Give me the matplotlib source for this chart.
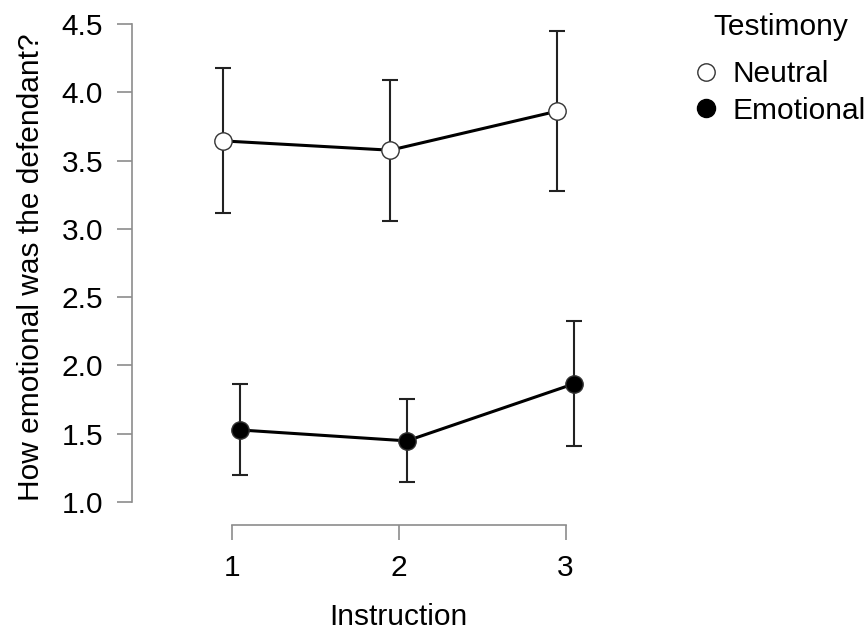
import numpy as np
import matplotlib
matplotlib.use("Agg")
import matplotlib.pyplot as plt
from matplotlib.lines import Line2D

plt.rcParams['font.family'] = ['Liberation Sans', 'DejaVu Sans']

instruction = [1, 2, 3]
groups = ["Neutral", "Emotional"]

neutral_mean = [3.645, 3.577, 3.863]
neutral_lower = [3.12, 3.061, 3.276]
neutral_upper = [4.177, 4.091, 4.451]

emotional_mean = [1.526, 1.446, 1.864]
emotional_lower = [1.196, 1.142, 1.409]
emotional_upper = [1.862, 1.752, 2.327]

y_ticks = [1.0, 1.5, 2.0, 2.5, 3.0, 3.5, 4.0, 4.5]

fs = 21.5
spine_col = '#8c8c8c'

fig = plt.figure(figsize=(8.68, 6.31), dpi=100)
# x from 0.403 to 3.597 so that the axis label sits under x=2
ax = fig.add_axes([0.1521, 0.1675, 0.6142, 0.8167])

x = np.array(instruction, dtype=float)
series = [
    (x - 0.05, neutral_mean, neutral_lower, neutral_upper, 'white'),
    (x + 0.05, emotional_mean, emotional_lower, emotional_upper, 'black'),
]
for xs, m, lo, hi, fc in series:
    m = np.array(m)
    yerr = [m - np.array(lo), np.array(hi) - m]
    ax.errorbar(xs, m, yerr=yerr, fmt='none', ecolor='#222222', elinewidth=1.5,
                capsize=6, capthick=1.5, zorder=2)
    ax.plot(xs, m, color='black', lw=2.2, zorder=3)
    ax.plot(xs, m, 'o', ms=12.5, mfc=fc, mec='#333333', mew=1.0, zorder=4)

ax.set_xlim(0.403, 3.597)
ax.set_ylim(0.827, 4.605)
ax.set_yticks(y_ticks)
ax.set_yticklabels(['%.1f' % v for v in y_ticks])
ax.set_xticks(instruction)
ax.set_xticklabels([str(i) for i in instruction])

for s in ['top', 'right']:
    ax.spines[s].set_visible(False)
ax.spines['left'].set_bounds(1.0, 4.5)
ax.spines['bottom'].set_bounds(1, 3)
for s in ['left', 'bottom']:
    ax.spines[s].set_color(spine_col)
    ax.spines[s].set_linewidth(1.2)
ax.tick_params(axis='both', colors=spine_col, labelcolor='black', length=10.8,
               width=1.2, labelsize=fs, pad=10)

ax.set_ylabel('How emotional was the defendant?', fontsize=fs, labelpad=12)
ax.set_xlabel('Instruction', fontsize=fs, labelpad=15)

# legend: title placed separately so the gap above the entries matches
handles = [
    Line2D([], [], ls='none', marker='o', ms=12.5, mfc='white', mec='#333333', mew=1.0),
    Line2D([], [], ls='none', marker='o', ms=13, mfc='black', mec='black', mew=1.0),
]
fig.legend(handles, groups, loc='center left', bbox_to_anchor=(0.7615, 0.8534),
           frameon=False, fontsize=fs, handletextpad=0.3, handlelength=1.2,
           labelspacing=0.27)
fig.text(0.8998, 0.9445, 'Testimony', fontsize=fs, ha='center', va='baseline')

fig.savefig('out.png', dpi=100)
